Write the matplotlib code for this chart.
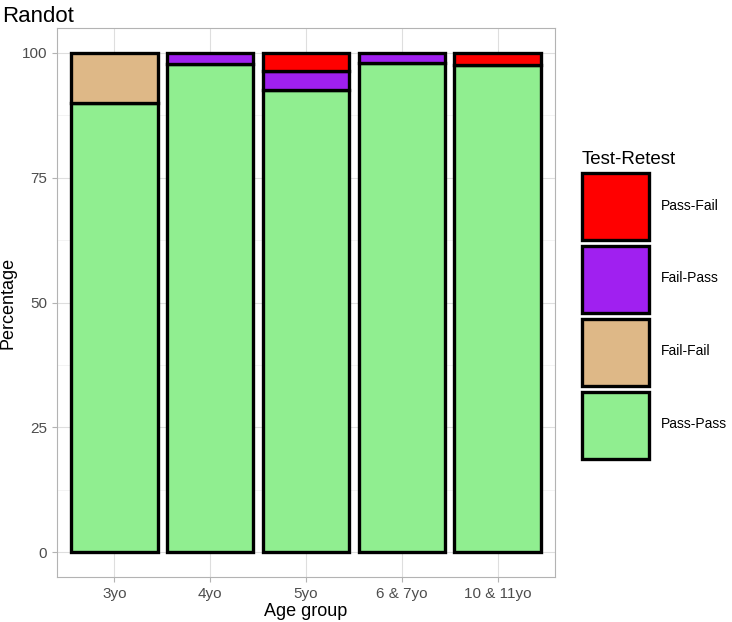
import matplotlib
matplotlib.use("Agg")
import matplotlib.pyplot as plt
from matplotlib.patches import Patch
import numpy as np

plt.rcParams['font.family'] = ['Liberation Sans', 'DejaVu Sans']

groups = ["3yo", "4yo", "5yo", "6 & 7yo", "10 & 11yo"]
categories = ["Pass-Pass", "Fail-Fail", "Fail-Pass", "Pass-Fail"]
pass_pass = [90.0, 97.8, 92.6, 97.9, 97.5]
fail_fail = [10.0, 0.0, 0.0, 0.0, 0.0]
fail_pass = [0.0, 2.2, 3.7, 2.1, 0.0]
pass_fail = [0.0, 0.0, 3.7, 0.0, 2.5]
colors = {"Pass-Pass": "#90EE90", "Fail-Fail": "#DEB887",
          "Fail-Pass": "#A020F0", "Pass-Fail": "#FF0000"}
yticks = [0, 25, 50, 75, 100]

series = {"Pass-Pass": pass_pass, "Fail-Fail": fail_fail,
          "Fail-Pass": fail_pass, "Pass-Fail": pass_fail}

fig = plt.figure(figsize=(7.32, 6.22), dpi=100)
ax = fig.add_axes([57/732, 1-577/622, (555-57)/732, (577-28)/622])

x = np.arange(1, len(groups) + 1)
bottom = np.zeros(len(groups))
for cat in categories:
    vals = np.array(series[cat])
    mask = vals > 0
    ax.bar(x[mask], vals[mask], bottom=bottom[mask], width=0.9,
           color=colors[cat], edgecolor="black", linewidth=2.4, zorder=3)
    bottom += vals

ax.set_xlim(0.4, len(groups) + 0.6)
ax.set_ylim(-5, 105)
ax.set_xticks(x)
ax.set_xticklabels(groups)
ax.set_yticks(yticks)
ax.set_yticks([12.5, 37.5, 62.5, 87.5], minor=True)
ax.grid(True, which="major", color="#DEDEDE", linewidth=0.8, zorder=0)
ax.grid(True, which="minor", axis="y", color="#EEEEEE", linewidth=0.5, zorder=0)
for s in ax.spines.values():
    s.set_color("#B3B3B3")
    s.set_linewidth(0.8)
ax.tick_params(which="major", color="#B3B3B3", length=3.5, width=0.8,
               labelsize=11, labelcolor="#4D4D4D")
ax.tick_params(which="minor", length=0)
ax.set_xlabel("Age group", fontsize=13, color="black", labelpad=2)
ax.set_ylabel("Percentage", fontsize=13, color="black", labelpad=4)
ax.set_title("Randot", fontsize=16, loc="left", x=-0.11, pad=4)

handles = [Patch(facecolor=colors[c], edgecolor="black", linewidth=2.4)
           for c in reversed(categories)]
leg = fig.legend(handles, list(reversed(categories)), loc="upper left",
                 bbox_to_anchor=(576/732, 1-145/622), frameon=False,
                 fontsize=10, title="Test-Retest", title_fontsize=13.5,
                 handlelength=4.82, handleheight=7.04, labelspacing=0.42,
                 handletextpad=0.86, borderaxespad=0)
leg._legend_box.align = "left"

fig.savefig("out.png", dpi=100)
